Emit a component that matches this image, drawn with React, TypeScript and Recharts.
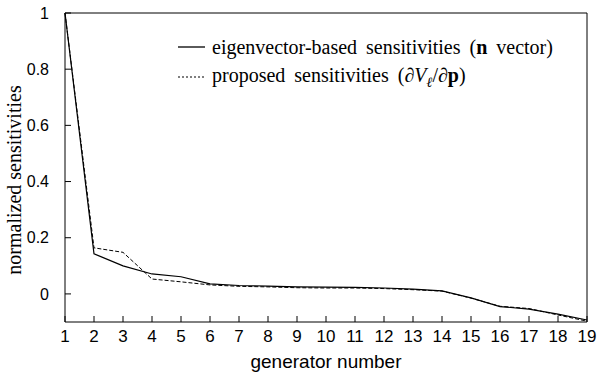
import { LineChart, Line, XAxis, YAxis, Legend } from "recharts";

const generators = [1, 2, 3, 4, 5, 6, 7, 8, 9, 10, 11, 12, 13, 14, 15, 16, 17, 18, 19];
const eigenSens = [1.0, 0.143, 0.1, 0.071, 0.061, 0.036, 0.03, 0.028, 0.025, 0.024, 0.023, 0.021, 0.017, 0.011, -0.014, -0.045, -0.054, -0.072, -0.093];
const proposedSens = [1.0, 0.164, 0.148, 0.053, 0.043, 0.032, 0.027, 0.025, 0.022, 0.021, 0.021, 0.019, 0.015, 0.01, -0.015, -0.044, -0.052, -0.075, -0.097];
const yTicks = [0, 0.2, 0.4, 0.6, 0.8, 1];

const data = generators.map((g, i) => ({ gen: g, eigen: eigenSens[i], proposed: proposedSens[i] }));

const sans = "'Liberation Sans', Arial, sans-serif";
const serif = "'Liberation Serif', 'Times New Roman', serif";

function LegendBox() {
  const row = { display: "flex", alignItems: "center", height: 30, whiteSpace: "nowrap" as const };
  return (
    <div style={{ fontFamily: serif, fontSize: 20, color: "#000", lineHeight: 1 }}>
      <div style={row}>
        <svg width={27} height={4} style={{ marginRight: 7 }}>
          <line x1={0} y1={2} x2={27} y2={2} stroke="#000" strokeWidth={1.3} />
        </svg>
        <span style={{ wordSpacing: 4 }}>
          eigenvector-based sensitivities (<b>n</b> vector)
        </span>
      </div>
      <div style={row}>
        <svg width={27} height={4} style={{ marginRight: 7 }}>
          <line x1={0} y1={2} x2={27} y2={2} stroke="#000" strokeWidth={1.1} strokeDasharray="2 2" />
        </svg>
        <span style={{ wordSpacing: 4 }}>
          proposed sensitivities (∂<i>V</i>
          <sub style={{ fontSize: 14, fontStyle: "italic" }}>ℓ</sub>/∂<b>p</b>)
        </span>
      </div>
    </div>
  );
}

export default function App() {
  return (
    <div style={{ position: "fixed", left: 0, top: 0, width: 598, height: 374, background: "#fff" }}>
      <LineChart width={598} height={374} data={data} margin={{ top: 0, right: 0, bottom: 0, left: 0 }}>
        <XAxis
          xAxisId="bottom"
          dataKey="gen"
          type="number"
          domain={[1, 19]}
          ticks={generators}
          height={52}
          stroke="#000"
          tickSize={-6}
          tickMargin={14}
          tick={{ fill: "#000", fontSize: 17, fontFamily: sans }}
          label={() => (
            <text x={326} y={368} textAnchor="middle" fontFamily={sans} fontSize={19} fill="#000">
              generator number
            </text>
          )}
        />
        <XAxis
          xAxisId="top"
          orientation="top"
          dataKey="gen"
          type="number"
          domain={[1, 19]}
          ticks={generators}
          height={13}
          stroke="#000"
          tickSize={-6}
          tick={false}
        />
        <YAxis
          yAxisId="left"
          type="number"
          domain={[-0.1, 1]}
          ticks={yTicks}
          allowDataOverflow
          width={65}
          stroke="#000"
          tickSize={-6}
          tickMargin={22}
          tick={{ fill: "#000", fontSize: 16, fontFamily: sans }}
          label={() => (
            <text
              x={21}
              y={180}
              transform="rotate(-90 21 180)"
              textAnchor="middle"
              fontFamily={serif}
              fontSize={20}
              fill="#000"
            >
              normalized sensitivities
            </text>
          )}
        />
        <YAxis
          yAxisId="right"
          orientation="right"
          type="number"
          domain={[-0.1, 1]}
          ticks={yTicks}
          allowDataOverflow
          width={11}
          stroke="#000"
          tickSize={-6}
          tick={false}
        />
        <Legend
          layout="horizontal"
          align="center"
          verticalAlign="middle"
          content={() => <LegendBox />}
          wrapperStyle={{ left: 178, top: 32, width: 410, height: 60 }}
        />
        <Line
          xAxisId="bottom"
          yAxisId="left"
          dataKey="eigen"
          type="linear"
          stroke="#000"
          strokeWidth={1.2}
          dot={false}
          isAnimationActive={false}
        />
        <Line
          xAxisId="bottom"
          yAxisId="left"
          dataKey="proposed"
          type="linear"
          stroke="#000"
          strokeWidth={1}
          strokeDasharray="4 2"
          dot={false}
          isAnimationActive={false}
        />
      </LineChart>
    </div>
  );
}
